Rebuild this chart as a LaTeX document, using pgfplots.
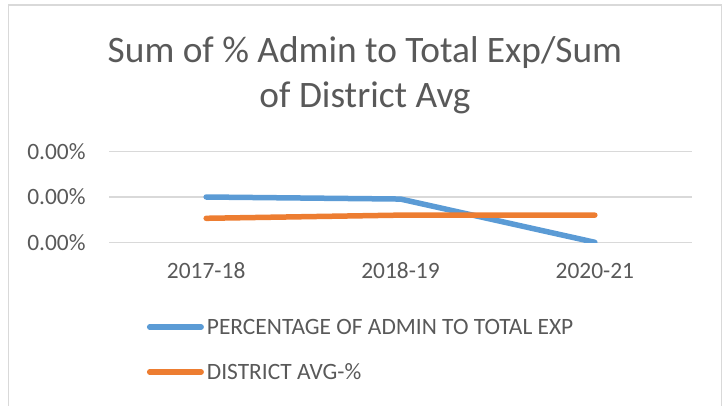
\documentclass[border=0pt]{standalone}
\usepackage{fontspec}
\setmainfont{Carlito}
\usepackage{pgfplots}
\pgfplotsset{compat=1.18}
\definecolor{serblue}{HTML}{5B9BD5}
\definecolor{serorange}{HTML}{ED7D31}
\definecolor{txt}{HTML}{595959}
\definecolor{gridc}{HTML}{D9D9D9}

\begin{document}
\begin{tikzpicture}[x=1bp,y=1bp]
\useasboundingbox (0,0) rectangle (723,-405);
% chart area border (bottom edge lies below the picture)
\draw[gridc, line width=1.5bp] (8.5,-430) -- (8.5,-5) -- (721.5,-5) -- (721.5,-430);
% title
\node[txt, font=\fontsize{37.5}{45}\selectfont, anchor=base, inner sep=0pt] at (365,-62) {Sum of \% Admin to Total Exp/Sum};
\node[txt, font=\fontsize{37.5}{45}\selectfont, anchor=base, inner sep=0pt] at (365,-107) {of District Avg};

\begin{axis}[
    at={(109bp,-242.3bp)}, anchor=south west,
    scale only axis,
    width=583bp, height=90.6bp,
    xmin=-0.5, xmax=2.5,
    ymin=0, ymax=2,
    xtick={0,1,2},
    xticklabels={2017-18,2018-19,2020-21},
    ytick={0,1,2},
    yticklabels={0.00\%,0.00\%,0.00\%},
    axis line style={draw=none},
    tick style={draw=none},
    major tick length=0pt,
    ymajorgrids,
    major grid style={gridc, line width=1.5bp},
    xticklabel style={font=\fontsize{23.5}{28}\selectfont, text=txt, anchor=base, inner sep=0pt, yshift=-36bp},
    yticklabel style={font=\fontsize{23.5}{28}\selectfont, text=txt, anchor=east, inner sep=0pt, xshift=-23.3bp},
    legend style={draw=none, fill=none, at={(0.0647,-0.850)}, anchor=north west,
        inner sep=0pt, font=\fontsize{23.5}{28}\selectfont, text=txt,
        row sep=30bp, column sep=3bp,
        nodes={inner sep=0pt, text height=15bp, text depth=0bp}},
    legend cell align=left,
    legend image code/.code={\draw[#1] (0bp,0bp) -- (51.5bp,0bp);},
    every axis plot/.append style={line width=5.5bp, line cap=round, line join=round},
]
\addplot[serblue] coordinates {(0,1.0) (1,0.955) (2,0.0)};
\addlegendentry{PERCENTAGE OF ADMIN TO TOTAL EXP}
\addplot[serorange] coordinates {(0,0.53) (1,0.60) (2,0.60)};
\addlegendentry{DISTRICT AVG-\%}
\end{axis}
\end{tikzpicture}
\end{document}
